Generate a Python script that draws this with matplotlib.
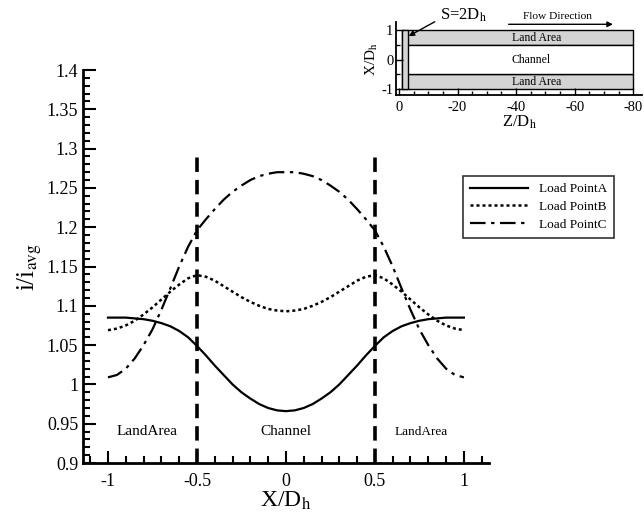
import matplotlib
matplotlib.use("Agg")
import matplotlib.pyplot as plt
from matplotlib.ticker import MultipleLocator, FuncFormatter
from matplotlib.patches import Rectangle

plt.rcParams["font.family"] = ["Liberation Serif", "DejaVu Serif"]
plt.rcParams["mathtext.fontset"] = "stix"

# positions across the channel
x = [-1.00, -0.95, -0.90, -0.85, -0.80, -0.75, -0.70, -0.65, -0.60, -0.55,
     -0.50, -0.45, -0.40, -0.35, -0.30, -0.25, -0.20, -0.15, -0.10, -0.05,
     0.00, 0.05, 0.10, 0.15, 0.20, 0.25, 0.30, 0.35, 0.40, 0.45,
     0.50, 0.55, 0.60, 0.65, 0.70, 0.75, 0.80, 0.85, 0.90, 0.95, 1.00]

load_a = [1.085, 1.085, 1.085, 1.084, 1.083, 1.081, 1.078, 1.074, 1.068, 1.060,
          1.049, 1.037, 1.024, 1.012, 1.000, 0.990, 0.982, 0.975, 0.970, 0.967,
          0.966, 0.967, 0.970, 0.975, 0.982, 0.990, 1.000, 1.012, 1.024, 1.037,
          1.049, 1.060, 1.068, 1.074, 1.078, 1.081, 1.083, 1.084, 1.085, 1.085, 1.085]

load_b = [1.069, 1.071, 1.075, 1.081, 1.089, 1.098, 1.108, 1.118, 1.127, 1.135,
          1.139, 1.137, 1.132, 1.125, 1.118, 1.111, 1.105, 1.100, 1.096, 1.094,
          1.093, 1.094, 1.096, 1.100, 1.105, 1.111, 1.118, 1.125, 1.132, 1.137,
          1.139, 1.135, 1.127, 1.118, 1.108, 1.098, 1.089, 1.081, 1.075, 1.071, 1.069]

load_c = [1.009, 1.012, 1.020, 1.033, 1.050, 1.070, 1.095, 1.122, 1.150, 1.175,
          1.196, 1.210, 1.223, 1.235, 1.245, 1.253, 1.260, 1.265, 1.268, 1.270,
          1.270, 1.270, 1.268, 1.265, 1.260, 1.253, 1.245, 1.235, 1.223, 1.210,
          1.196, 1.175, 1.150, 1.122, 1.095, 1.070, 1.050, 1.033, 1.020, 1.012, 1.009]

labels = ["Load PointA", "Load PointB", "Load PointC"]
boundaries = [-0.5, 0.5]

fig = plt.figure(figsize=(6.44, 5.17), dpi=100)
ax = fig.add_axes([0.129, 0.1044, 0.630, 0.7602])

ax.plot(x, load_a, color="black", lw=1.6, ls="-", label=labels[0])
ax.plot(x, load_b, color="black", lw=1.8, ls=(0, (1.2, 1.2)), label=labels[1])
ax.plot(x, load_c, color="black", lw=1.6, ls=(0, (7, 2.5, 1.5, 2.5)), label=labels[2])

for b in boundaries:
    ax.plot([b, b], [0.9, 1.295], color="black", lw=2.6, ls=(0, (4, 2.2)))

ax.text(-0.78, 0.94, "LandArea", ha="center", va="center", fontsize=11)
ax.text(0, 0.94, "Channel", ha="center", va="center", fontsize=11)
ax.text(0.76, 0.94, "LandArea", ha="center", va="center", fontsize=9.5)

ax.set_xlim(-1.14, 1.14)
ax.set_ylim(0.9, 1.4)
ax.xaxis.set_major_locator(MultipleLocator(0.5))
ax.xaxis.set_minor_locator(MultipleLocator(0.1))
ax.yaxis.set_major_locator(MultipleLocator(0.05))
ax.yaxis.set_minor_locator(MultipleLocator(0.01))
fmt = FuncFormatter(lambda v, p: "%g" % round(v, 3))
ax.xaxis.set_major_formatter(fmt)
ax.yaxis.set_major_formatter(fmt)
ax.tick_params(which="both", direction="in", width=1.5, labelsize=13, top=False, right=False)
ax.tick_params(which="major", length=9)
ax.tick_params(which="minor", length=5)
ax.tick_params(axis="x", pad=7)
ax.spines["top"].set_visible(False)
ax.spines["right"].set_visible(False)
ax.spines["left"].set_linewidth(2)
ax.spines["bottom"].set_linewidth(2)
ax.set_xlabel(r"X/D$_\mathrm{h}$", fontsize=17, labelpad=0)
ax.set_ylabel(r"i/i$_\mathrm{avg}$", fontsize=18, labelpad=2)

leg = ax.legend(loc="upper left", bbox_to_anchor=(0.719, 0.6596), bbox_transform=fig.transFigure,
                borderaxespad=0, fontsize=9.5, frameon=True, fancybox=False, handlelength=4.4,
                borderpad=0.55, labelspacing=0.4, handletextpad=0.8)
leg.get_frame().set_edgecolor("black")
leg.get_frame().set_linewidth(1.2)

# inset: channel sketch
ins = fig.add_axes([0.615, 0.816, 0.382, 0.141])
ins.set_xlim(1, -83)
ins.set_ylim(-1.2, 1.27)
gray = "#d4d4d4"
ins.add_patch(Rectangle((-1, 0.5), -79, 0.5, facecolor=gray, edgecolor="black", lw=1))
ins.add_patch(Rectangle((-1, -1), -79, 0.5, facecolor=gray, edgecolor="black", lw=1))
ins.add_patch(Rectangle((-1, -0.5), -79, 1.0, facecolor="white", edgecolor="black", lw=1))
ins.add_patch(Rectangle((-1, -1), -2.2, 2, facecolor=gray, edgecolor="black", lw=1))
ins.text(-38.5, 0.73, "Land Area", ha="left", va="center", fontsize=8.5)
ins.text(-38.5, 0.0, "Channel", ha="left", va="center", fontsize=8.5)
ins.text(-38.5, -0.76, "Land Area", ha="left", va="center", fontsize=8.5)
ins.text(-54, 1.45, "Flow Direction", ha="center", va="center", fontsize=8.2, clip_on=False)
ins.annotate("", xy=(-74, 1.2), xytext=(-36.5, 1.2),
             arrowprops=dict(arrowstyle="-|>", color="black", lw=1, mutation_scale=8),
             annotation_clip=False)
ins.annotate(r"S=2D$_\mathrm{h}$", xy=(-3.3, 0.8), xytext=(-22, 1.5),
             ha="center", va="center", fontsize=12, annotation_clip=False,
             arrowprops=dict(arrowstyle="-|>", color="black", lw=1, mutation_scale=8,
                             shrinkA=2, shrinkB=0, relpos=(0.0, 0.3)))
ins.xaxis.set_major_locator(MultipleLocator(20))
ins.xaxis.set_minor_locator(MultipleLocator(5))
ins.yaxis.set_major_locator(MultipleLocator(1))
ins.yaxis.set_minor_locator(MultipleLocator(0.5))
ins.xaxis.set_major_formatter(fmt)
ins.yaxis.set_major_formatter(fmt)
ins.tick_params(which="both", direction="in", width=1, labelsize=10.5, top=False, right=False, pad=2)
ins.tick_params(which="major", length=5)
ins.tick_params(which="minor", length=3)
ins.tick_params(axis="x", pad=4)
ins.spines["top"].set_visible(False)
ins.spines["right"].set_visible(False)
ins.spines["left"].set_linewidth(1.3)
ins.spines["bottom"].set_linewidth(1.3)
ins.set_xlabel(r"Z/D$_\mathrm{h}$", fontsize=12, labelpad=0)
ins.set_ylabel(r"X/D$_\mathrm{h}$", fontsize=11, labelpad=1)

fig.savefig("out.png", dpi=100)
